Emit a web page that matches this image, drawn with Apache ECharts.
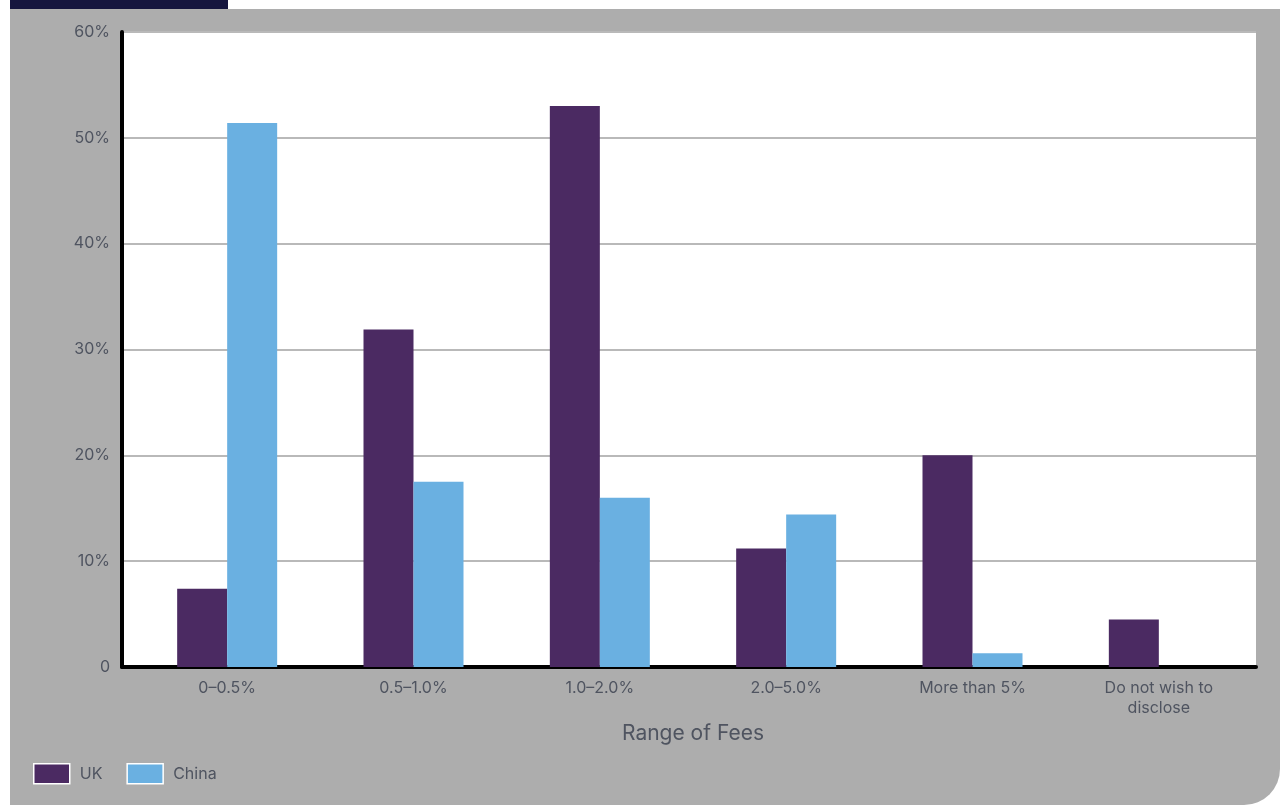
<!DOCTYPE html>
<html>
<head>
<meta charset="utf-8">
<script src="https://cdn.jsdelivr.net/npm/echarts@6/dist/echarts.min.js"></script>
<style>
html,body{margin:0;padding:0;background:#ffffff;}
#chart{width:1286px;height:805px;}
</style>
</head>
<body>
<div id="chart"></div>
<script>
var categories = ['0–0.5%', '0.5–1.0%', '1.0–2.0%', '2.0–5.0%', 'More than 5%', 'Do not wish to\ndisclose'];
var ukValues = [7.4, 31.9, 53.0, 11.2, 20.0, 4.5];
var chinaValues = [51.4, 17.5, 16.0, 14.4, 1.3, 0];
var seriesNames = ['UK', 'China'];
var axisTitle = 'Range of Fees';

var textColor = '#4f5460';
var fontFamily = 'Inter, Roboto, "DejaVu Sans", sans-serif';

var chart = echarts.init(document.getElementById('chart'), null, {renderer: 'canvas'});
chart.setOption({
  backgroundColor: '#ffffff',
  animation: false,
  textStyle: {fontFamily: fontFamily},
  graphic: [
    {type: 'rect', z: -10, shape: {x: 10, y: 0, width: 218, height: 9}, style: {fill: '#15153e'}},
    {type: 'rect', z: -10, shape: {x: 10, y: 9, width: 1270, height: 796, r: [0, 0, 36, 0]}, style: {fill: '#adadad'}},
    {type: 'rect', z: -9, shape: {x: 122, y: 32, width: 1134, height: 635}, style: {fill: '#ffffff'}}
  ],
  legend: {
    left: 28, top: 758,
    itemWidth: 36, itemHeight: 20, itemGap: 24,
    icon: 'rect',
    data: seriesNames,
    itemStyle: {borderColor: '#ffffff', borderWidth: 1.5},
    textStyle: {color: textColor, fontSize: 16, fontFamily: fontFamily, padding: [0, 0, 0, 5]}
  },
  grid: [
    {left: 122, right: 30, top: 32, bottom: 138},
    {left: 134, right: 34, top: 32, bottom: 138}
  ],
  xAxis: [
    {
      gridIndex: 0, type: 'value', min: 0, max: 1,
      axisLine: {show: true, onZero: false, lineStyle: {color: '#000000', width: 4}},
      axisTick: {show: false}, axisLabel: {show: false}, splitLine: {show: false}
    },
    {
      gridIndex: 1, type: 'category', data: categories,
      axisLine: {show: false}, axisTick: {show: false},
      axisLabel: {color: textColor, fontSize: 16, margin: 11, lineHeight: 20, fontFamily: fontFamily},
      name: axisTitle, nameLocation: 'middle', nameGap: 56,
      nameTextStyle: {color: textColor, fontSize: 21, fontFamily: fontFamily}
    }
  ],
  yAxis: [
    {
      gridIndex: 0, type: 'value', min: 0, max: 60, interval: 10,
      axisLine: {show: true, lineStyle: {color: '#000000', width: 4}},
      axisTick: {show: false},
      axisLabel: {color: textColor, fontSize: 16, margin: 12, fontFamily: fontFamily,
        formatter: function (v) { return v === 0 ? '0' : v + '%'; }},
      splitLine: {show: true, lineStyle: {color: '#b9b9b9', width: 2}}
    },
    {
      gridIndex: 1, type: 'value', min: 0, max: 60, interval: 10,
      axisLine: {show: false}, axisTick: {show: false}, axisLabel: {show: false}, splitLine: {show: false}
    }
  ],
  series: [
    {name: seriesNames[0], type: 'bar', xAxisIndex: 1, yAxisIndex: 1, data: ukValues,
      barWidth: 50, barGap: '0%', itemStyle: {color: '#4b2a62'}, z: 1},
    {name: seriesNames[1], type: 'bar', xAxisIndex: 1, yAxisIndex: 1, data: chinaValues,
      barWidth: 50, barGap: '0%', itemStyle: {color: '#6ab0e1'}, z: 1}
  ]
});
</script>
</body>
</html>
